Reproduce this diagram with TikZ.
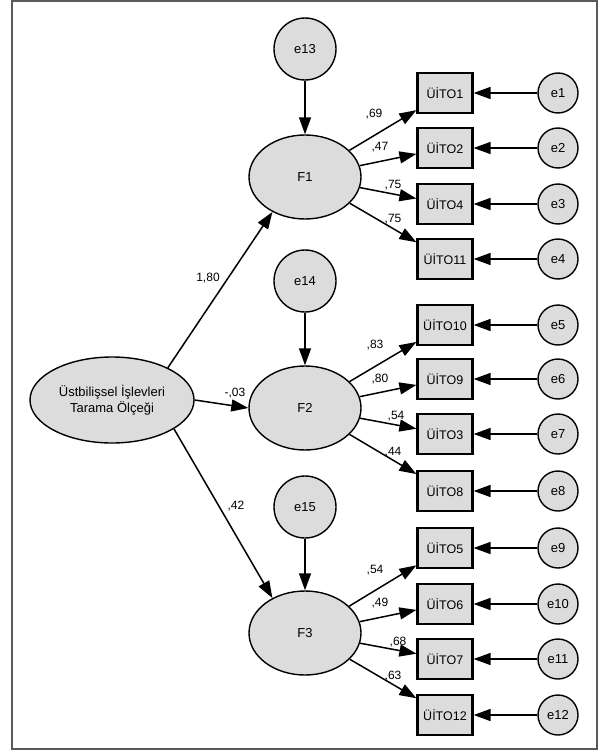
\documentclass[tikz,border=0pt]{standalone}
\usepackage{fontspec}
\setmainfont{Liberation Sans}
\usetikzlibrary{arrows.meta,shapes.geometric}
\definecolor{shapefill}{HTML}{DCDCDC}
\definecolor{framegray}{HTML}{5A5A5A}
\tikzset{
  errc/.style={circle,draw,line width=1.4pt,fill=shapefill,minimum size=40pt,inner sep=0pt,font=\fontsize{13}{15}\selectfont},
  errbig/.style={circle,draw,line width=1.4pt,fill=shapefill,minimum size=62pt,inner sep=0pt,font=\fontsize{13}{15}\selectfont},
  latent/.style={ellipse,draw,line width=1.4pt,fill=shapefill,minimum width=112pt,minimum height=84pt,inner sep=0pt,font=\fontsize{13}{15}\selectfont},
  obs/.style={rectangle,draw,line width=2.2pt,fill=shapefill,minimum width=55pt,minimum height=40pt,inner sep=0pt,font=\fontsize{12.5}{15}\selectfont},
  path/.style={line width=1.5pt,-{Triangle[length=17pt,width=12pt]}},
  coef/.style={font=\fontsize{12}{14}\selectfont,inner sep=0pt}
}
\begin{document}
\begin{tikzpicture}[x=1pt,y=-1pt]
\useasboundingbox (0,0) rectangle (601,752);
\fill[white] (0,0) rectangle (601,752);
\draw[framegray,line width=2pt] (12,1) rectangle (597,749);

% main latent
\node[ellipse,draw,line width=1.4pt,fill=shapefill,minimum width=164pt,minimum height=86pt,inner sep=0pt,align=center,font=\fontsize{13}{15.5}\selectfont] (U) at (112,400) {Üstbilişsel İşlevleri\\Tarama Ölçeği};

% factors
\node[latent] (F1) at (305,177) {F1};
\node[latent] (F2) at (305,408) {F2};
\node[latent] (F3) at (305,633) {F3};

\node[errbig] (e13) at (305,49) {e13};
\node[errbig] (e14) at (305,281) {e14};
\node[errbig] (e15) at (305,507) {e15};

% observed
\node[obs] (b1)  at (445,93)  {ÜİTO1};
\node[obs] (b2)  at (445,148) {ÜİTO2};
\node[obs] (b4)  at (445,204) {ÜİTO4};
\node[obs] (b11) at (445,259) {ÜİTO11};
\node[obs] (b10) at (445,325) {ÜİTO10};
\node[obs] (b9)  at (445,379) {ÜİTO9};
\node[obs] (b3)  at (445,434) {ÜİTO3};
\node[obs] (b8)  at (445,491) {ÜİTO8};
\node[obs] (b5)  at (445,548) {ÜİTO5};
\node[obs] (b6)  at (445,604) {ÜİTO6};
\node[obs] (b7)  at (445,659) {ÜİTO7};
\node[obs] (b12) at (445,715) {ÜİTO12};

% errors
\node[errc] (e1)  at (558,93)  {e1};
\node[errc] (e2)  at (558,148) {e2};
\node[errc] (e3)  at (558,204) {e3};
\node[errc] (e4)  at (558,259) {e4};
\node[errc] (e5)  at (558,325) {e5};
\node[errc] (e6)  at (558,379) {e6};
\node[errc] (e7)  at (558,434) {e7};
\node[errc] (e8)  at (558,491) {e8};
\node[errc] (e9)  at (558,548) {e9};
\node[errc] (e10) at (558,604) {e10};
\node[errc] (e11) at (558,659) {e11};
\node[errc] (e12) at (558,715) {e12};

% structural paths
\draw[path] (U.30) -- (F1.227);
\draw[path] (U.east) -- (F2.west);
\draw[path] (U.335) -- (F3.133);
\draw[path] (e13) -- (F1);
\draw[path] (e14) -- (F2);
\draw[path] (e15) -- (F3);

% loadings
\foreach \f/\b in {F1/b1,F1/b2,F1/b4,F1/b11,F2/b10,F2/b9,F2/b3,F2/b8,F3/b5,F3/b6,F3/b7,F3/b12}
  \draw[path] (\f) -- (\b);
\foreach \e/\b in {e1/b1,e2/b2,e3/b4,e4/b11,e5/b10,e6/b9,e7/b3,e8/b8,e9/b5,e10/b6,e11/b7,e12/b12}
  \draw[path] (\e) -- (\b);

% coefficients
\node[coef] (c1) at (208,278) {1,80};
\node[coef] (c2) at (235,393) {-,03};
\node[coef] (c3) at (236,506) {,42};

\node[coef] (l1) at (374,114) {,69};
\node[coef] (l2) at (380,147) {,47};
\node[coef] (l4) at (393,185) {,75};
\node[coef] (l11) at (393,219) {,75};
\node[coef] (l10) at (375,345) {,83};
\node[coef] (l9) at (380,379) {,80};
\node[coef] (l3) at (396,416) {,54};
\node[coef] (l8) at (393,452) {,44};
\node[coef] (l5) at (375,570) {,54};
\node[coef] (l6) at (380,603) {,49};
\node[coef] (l7) at (398,642) {,68};
\node[coef] (l12) at (393,676) {,63};
\end{tikzpicture}
\end{document}
